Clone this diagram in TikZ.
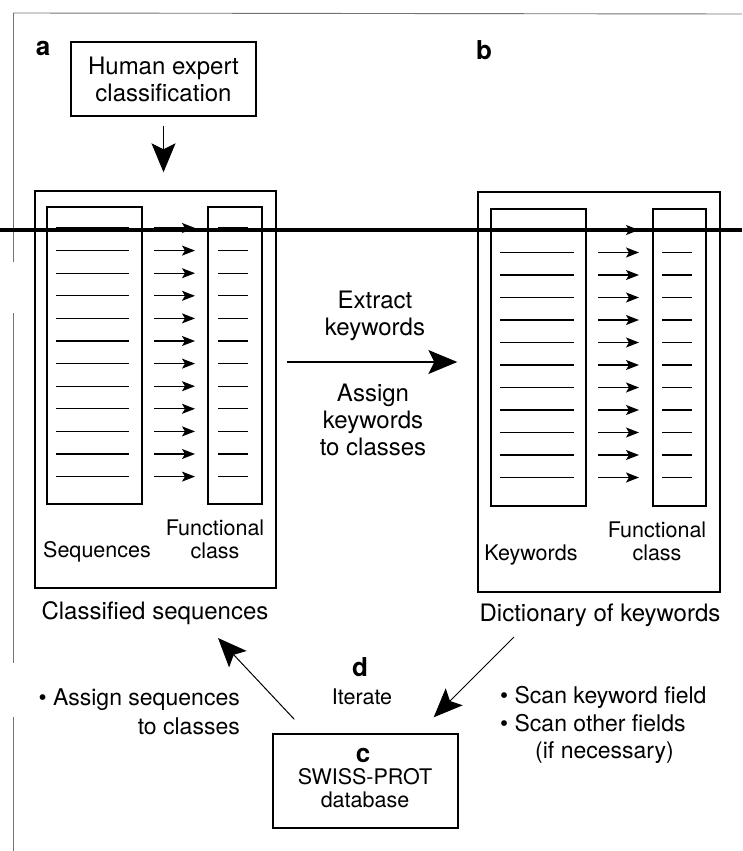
\documentclass[tikz,border=0pt]{standalone}
\usepackage{fontspec}
\setmainfont{TeX Gyre Heros}
\usetikzlibrary{arrows.meta}
\tikzset{>=stealth}
\tikzset{
  box/.style={draw, line width=1.4pt, inner sep=0pt},
  bighead/.style={-{Stealth[length=29pt,width=24pt,inset=6pt]}, line width=1.2pt},
  rowarrow/.style={-{Stealth[length=13pt,width=10pt,inset=3pt]}, line width=1.3pt},
  rowline/.style={line width=1.3pt},
  txt/.style={font=\fontsize{24}{27}\selectfont, align=center, inner sep=0pt},
  small/.style={font=\fontsize{21.5}{23}\selectfont, align=center, inner sep=0pt},
  tag/.style={font=\fontsize{26}{28}\selectfont\bfseries, inner sep=0pt},
  scan/.style={black!55, line width=0.9pt}
}

\begin{document}
\begin{tikzpicture}[x=1pt,y=-1pt]
  \useasboundingbox (0,0) rectangle (742,851);

  % page edges of the scan
  \draw[scan] (13,13) -- (742,14);
  \draw[scan] (13,13) -- (13,262);
  \draw[scan] (13,313) -- (13,663);
  \draw[scan] (13,717) -- (13,851);

  % a
  \node[tag] (taga) at (43,48) {a};
  \node[box, txt, minimum width=185pt, minimum height=74pt] (expert) at (163.5,79) {Human expert\\classification};

  \node[box, minimum width=241pt, minimum height=397pt] (classified) at (155.5,389.5) {};
  \node[box, minimum width=95pt, minimum height=297pt] (seqcol) at (94.5,355.5) {};
  \node[box, minimum width=54pt, minimum height=297pt] (fcolA) at (235,355.5) {};
  \foreach \i [evaluate=\i as \yy using 228+22.6*\i] in {0,...,11} {
    \draw[rowline] (56,\yy) -- (129,\yy);
    \draw[rowarrow] (154,\yy) -- (195,\yy);
    \draw[rowline] (218,\yy) -- (248,\yy);
  }
  \node[small] (seqlbl) at (97,552) {Sequences};
  \node[small] (fclblA) at (215,539) {Functional\\class};
  \node[txt] (classlbl) at (155,613) {Classified sequences};

  \draw[bighead, shorten <=9pt, shorten >=18pt] (expert.south) -- (expert.south |- classified.north);

  % b
  \node[tag] (tagb) at (484,50) {b};
  \node[box, minimum width=242pt, minimum height=400pt] (dictionary) at (599,392) {};
  \node[box, minimum width=95pt, minimum height=297pt] (kwcol) at (538.5,357.5) {};
  \node[box, minimum width=53pt, minimum height=297pt] (fcolB) at (679.5,357.5) {};
  \foreach \i [evaluate=\i as \yy using 230+22.5*\i] in {0,...,11} {
    \draw[rowline] (500,\yy) -- (574,\yy);
    \draw[rowarrow] (598,\yy) -- (639,\yy);
    \draw[rowline] (662,\yy) -- (692,\yy);
  }
  \node[small] (kwlbl) at (531,555) {Keywords};
  \node[small] (fclblB) at (657,541) {Functional\\class};
  \node[txt] (dictlbl) at (600,615) {Dictionary of keywords};

  % a -> b
  \node[txt] (extract) at (375,316) {Extract\\keywords};
  \node[txt] (assignkw) at (373,420) {Assign\\keywords\\to classes};
  \draw[bighead, shorten <=10pt, shorten >=20pt] ([yshift=27.5pt]classified.east) -- ([yshift=30pt]dictionary.west);

  % c, d
  \node[tag] (tagd) at (360,667) {d};
  \node[small] (iterate) at (362,697) {Iterate};
  \node[box, minimum width=185pt, minimum height=94pt] (swissprot) at (365.5,781) {};
  \node[tag] (tagc) at (363,755) {c};
  \node[small] (dbname) at (365,788) {SWISS-PROT\\database};

  \node[anchor=east, align=right, inner sep=0pt, font=\fontsize{23}{29}\selectfont] (assignseq) at (240,712) {\textbullet\ Assign sequences\\to classes};
  \node[anchor=west, align=left, inner sep=0pt, font=\fontsize{23}{27.5}\selectfont] (scan) at (500,725) {\textbullet\ Scan keyword field\\\textbullet\ Scan other fields\\\hspace*{35pt}(if necessary)};

  \coordinate (backtip) at (218,638);
  \coordinate (scanstart) at (514,637);
  \draw[bighead, line width=1pt] ([shift={(22,-14)}]swissprot.north west) -- (backtip);
  \draw[bighead, line width=1pt] (scanstart) -- ([shift={(-25,-16)}]swissprot.north east);

  % heavy rule across the scan
  \draw[line width=3.5pt] (0,230) -- (742,230);
\end{tikzpicture}
\end{document}
